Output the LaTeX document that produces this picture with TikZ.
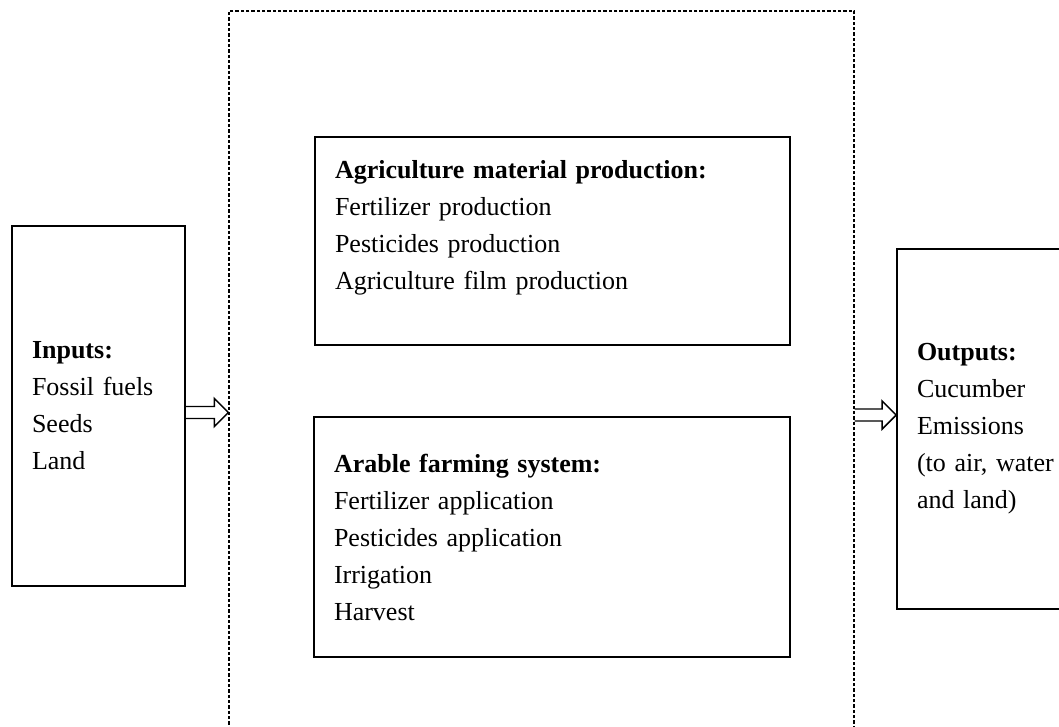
\documentclass[tikz,border=0pt]{standalone}
\usepackage{fontspec}
\setmainfont{Liberation Serif}
\usetikzlibrary{calc}

% hollow block arrow between two points on the same level
\newcommand{\hollowarrow}[2]{%
  \draw[blockarrow] (#1) ++(0,-6) -- ($(#2)+(-14,-6)$) -- ++(0,-8) -- (#2)
    -- ($(#2)+(-14,14)$) -- ++(0,-8) -- ($(#1)+(0,6)$);
}

\begin{document}
\begin{tikzpicture}[x=0.75pt, y=-0.75pt,
    box/.style={draw, line width=1.2pt, align=left, inner xsep=15pt, inner ysep=0pt,
      font=\fontsize{19.5}{27.75}\selectfont},
    sysframe/.style={draw, line width=0.9pt, dash pattern=on 2.5pt off 1.5pt},
    blockarrow/.style={line width=1.1pt, line join=miter}]
  \useasboundingbox (0,0) rectangle (1059,727);
  \clip (0,0) rectangle (1059,727);

  \node [sysframe, minimum width=468.75pt, minimum height=561.75pt] (system) at (541.5,385.5) {};

  \node [box, text width=99.75pt, minimum height=270pt] (inputs) at (98.5,406)
    {\textbf{Inputs:}\\Fossil fuels\\Seeds\\Land};
  \node [box, text width=326.25pt, minimum height=156pt] (material) at (552.5,241)
    {\textbf{Agriculture material production:}\\Fertilizer production\\Pesticides production\\Agriculture film production\\[-4pt]\mbox{}};
  \node [box, text width=327pt, minimum height=180pt] (farming) at (552,537)
    {\textbf{Arable farming system:}\\Fertilizer application\\Pesticides application\\Irrigation\\Harvest};
  \node [box, text width=120pt, minimum height=270pt] (outputs) at (997,429)
    {\textbf{Outputs:}\\Cucumber\\Emissions\\(to air, water\\and land)};

  \path (inputs.east) ++(0,6.5) coordinate (in_a);
  \coordinate (in_b) at (system.west |- in_a);
  \path (outputs.west) ++(0,-14) coordinate (out_b);
  \coordinate (out_a) at (system.east |- out_b);

  \hollowarrow{in_a}{in_b}
  \hollowarrow{out_a}{out_b}
\end{tikzpicture}
\end{document}
